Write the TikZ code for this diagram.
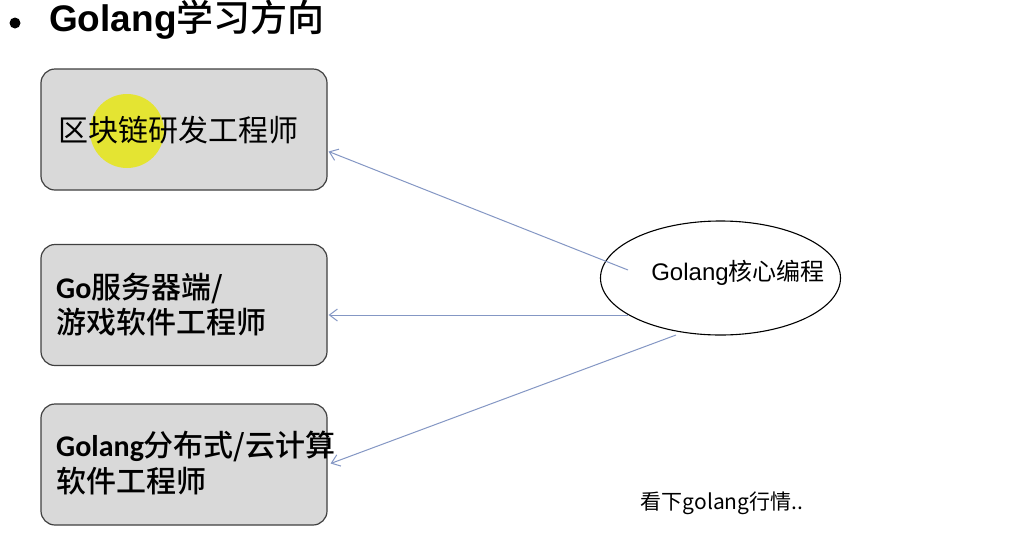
\documentclass[tikz,border=0pt]{standalone}
\usepackage{fontspec}
\setmainfont{Liberation Sans}
\newfontfamily\cjk{Noto Sans CJK SC}[BoldFont={* Medium}]
\newfontfamily\carl{Carlito}
\usetikzlibrary{arrows.meta,shapes.geometric}
\definecolor{boxfill}{HTML}{D9D9D9}
\definecolor{boxline}{HTML}{404040}
\definecolor{arrowc}{HTML}{8497C4}
\definecolor{hilite}{HTML}{E4E432}
\tikzset{
  jobbox/.style={draw=boxline, line width=1.2pt, fill=boxfill, rounded corners=14pt,
    minimum width=286pt, minimum height=121pt, inner sep=0pt},
  boxtext/.style={anchor=west, inner sep=0pt, font=\fontsize{30}{35}\selectfont},
  link/.style={draw=arrowc, line width=1pt, -{Straight Barb[length=8pt,width=12pt]}},
}
\begin{document}
\begin{tikzpicture}[x=1pt,y=-1pt]
\useasboundingbox (0,0) rectangle (1016,536);
\fill[white] (0,0) rectangle (1016,536);
% title
\fill[black] (15,23) circle (5.5pt);
\node[anchor=west, inner sep=0pt, font=\fontsize{37}{42}\selectfont\bfseries] (title) at (49,20) {Golang\cjk 学习方向};
% boxes
\node[jobbox] (b1) at (184,129.5) {};
\node[jobbox] (b2) at (184,305) {};
\node[jobbox] (b3) at (184,464.5) {};
\fill[hilite] (127,131) circle (37pt);
\node[boxtext] (t1) at (58,130) {\cjk 区块链研发工程师};
\node[boxtext] (t2a) at (56,289) {\bfseries\carl Go\cjk 服务器端/};
\node[boxtext] (t2b) at (56,322) {\bfseries\cjk 游戏软件工程师};
\node[boxtext] (t3a) at (56,446) {\bfseries\carl Golang\cjk 分布式/云计算};
\node[boxtext] (t3b) at (56,481) {\bfseries\cjk 软件工程师};
% core ellipse
\node[ellipse, draw=black, line width=1.1pt, minimum width=240pt, minimum height=114pt, inner sep=0pt] (core) at (720.5,278) {};
\node[inner sep=0pt, font=\fontsize{24}{28}\selectfont] (coretext) at (738,273) {Golang\cjk 核心编程};
% arrows
\coordinate (s1) at (628,270);
\coordinate (s2) at (628,315);
\coordinate (s3) at (676,335);
\draw[link] (s1) -- ([yshift=-22pt,xshift=1pt]b1.east);
\draw[link] (s2) -- ([yshift=-10pt,xshift=1pt]b2.east);
\draw[link] (s3) -- ([yshift=1pt,xshift=3pt]b3.east);
% note
\node[inner sep=0pt, font=\fontsize{21}{25}\selectfont\cjk] (note) at (722,503) {看下golang行情..};
\end{tikzpicture}
\end{document}
